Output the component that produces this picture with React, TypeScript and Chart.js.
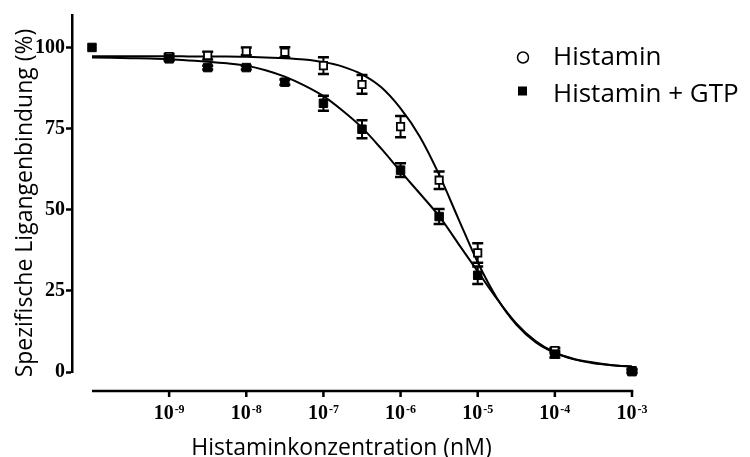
import React, { useEffect, useRef } from "react";
import { Chart, registerables } from "chart.js";

Chart.register(...registerables);

// ---- data (log10 of concentration, % specific binding, SEM) ----
const histaminLogConc = [-9, -8.5, -8, -7.5, -7, -6.5, -6, -5.5, -5, -4, -3];
const histaminBinding = [97.2, 97.5, 98.8, 98.5, 94.4, 88.6, 75.6, 59.1, 36.7, 6.6, 0.4];
const histaminSem = [0.8, 1.2, 1.2, 1.6, 2.6, 2.9, 3.3, 2.7, 3.0, 0.8, 0.5];

const gtpLogConc = [-10, -9, -8.5, -8, -7.5, -7, -6.5, -6, -5.5, -5, -4, -3];
const gtpBinding = [100, 96.5, 93.8, 93.8, 89.3, 82.8, 74.8, 62.2, 47.9, 29.8, 5.5, 0.1];
const gtpSem = [0, 0.6, 0.6, 0.6, 0.8, 2.3, 2.8, 2.1, 2.3, 2.7, 1.0, 0.5];

// fitted curves
const curveLogConc = [
  -10, -9.75, -9.5, -9.25, -9, -8.75, -8.5, -8.25, -8, -7.75, -7.5, -7.25, -7, -6.75, -6.5,
  -6.25, -6, -5.75, -5.5, -5.25, -5, -4.75, -4.5, -4.25, -4, -3.75, -3.5, -3.25, -3,
];
const histaminCurve = [
  97.3, 97.3, 97.3, 97.3, 97.3, 97.25, 97.2, 97.2, 97.1, 96.9, 96.7, 96.3, 95.5, 94.1, 91.7,
  87.7, 81.2, 72.5, 60.8, 47.2, 33.8, 22.7, 14.6, 9.2, 5.9, 3.9, 2.7, 2.1, 1.7,
];
const gtpCurve = [
  96.9, 96.8, 96.7, 96.6, 96.4, 96.0, 95.6, 95.1, 94.4, 93.0, 91.0, 88.3, 85.0, 80.5, 75.3,
  68.8, 61.8, 55.0, 48.0, 39.5, 31.0, 22.5, 15.0, 9.5, 6.0, 4.0, 2.9, 2.1, 1.6,
];

const xTickExponents = [-9, -8, -7, -6, -5, -4, -3];
const yTickValues = [0, 25, 50, 75, 100];
const xAxisStartExp = -10;
const xAxisEndExp = -3;

const seriesNames = ["Histamin", "Histamin + GTP"];
const xTitle = "Histaminkonzentration (nM)";
const yTitle = "Spezifische Ligangenbindung (%)";

const toXY = (logs: number[], vals: number[]) =>
  logs.map((l, i) => ({ x: Math.pow(10, l), y: vals[i] }));

const errorSeries = [
  { logs: histaminLogConc, vals: histaminBinding, errs: histaminSem },
  { logs: gtpLogConc, vals: gtpBinding, errs: gtpSem },
];

const errorBarPlugin = {
  id: "errorBars",
  beforeDatasetsDraw(chart: any) {
    const { ctx, scales } = chart;
    const xs = scales.x;
    const ys = scales.y;
    ctx.save();
    ctx.strokeStyle = "#000";
    errorSeries.forEach((s) => {
      s.logs.forEach((l, i) => {
        const e = s.errs[i];
        if (!e) return;
        const px = xs.getPixelForValue(Math.pow(10, l));
        const top = ys.getPixelForValue(s.vals[i] + e);
        const bot = ys.getPixelForValue(s.vals[i] - e);
        ctx.lineWidth = 2;
        ctx.beginPath();
        ctx.moveTo(px, top);
        ctx.lineTo(px, bot);
        ctx.stroke();
        ctx.lineWidth = 2.5;
        ctx.beginPath();
        ctx.moveTo(px - 5.5, top);
        ctx.lineTo(px + 5.5, top);
        ctx.moveTo(px - 5.5, bot);
        ctx.lineTo(px + 5.5, bot);
        ctx.stroke();
      });
    });
    ctx.restore();
  },
};

const decorPlugin = {
  id: "decor",
  afterDraw(chart: any) {
    const { ctx, scales } = chart;
    const xs = scales.x;
    const ys = scales.y;
    ctx.save();
    ctx.strokeStyle = "#000";
    ctx.fillStyle = "#000";

    // offset x axis
    const axisY = ys.getPixelForValue(0) + 19;
    const xa = xs.getPixelForValue(Math.pow(10, xAxisStartExp));
    const xb = xs.getPixelForValue(Math.pow(10, xAxisEndExp));
    ctx.lineWidth = 2.5;
    ctx.beginPath();
    ctx.moveTo(xa, axisY);
    ctx.lineTo(xb + 1.25, axisY);
    ctx.stroke();
    ctx.beginPath();
    xTickExponents.forEach((ex) => {
      const px = xs.getPixelForValue(Math.pow(10, ex));
      ctx.moveTo(px, axisY);
      ctx.lineTo(px, axisY + 6);
    });
    ctx.stroke();

    // tick labels 10^n
    const bigFont = "bold 20px 'Liberation Serif', serif";
    const supFont = "bold 12px 'Liberation Serif', serif";
    ctx.textBaseline = "alphabetic";
    ctx.textAlign = "left";
    xTickExponents.forEach((ex) => {
      const px = xs.getPixelForValue(Math.pow(10, ex));
      ctx.font = bigFont;
      const w1 = ctx.measureText("10").width;
      ctx.font = supFont;
      const sup = "-" + String(Math.abs(ex));
      const w2 = ctx.measureText(sup).width;
      const gap = 1;
      const left = px - (w1 + gap + w2) / 2;
      ctx.font = bigFont;
      ctx.fillText("10", left, axisY + 28);
      ctx.font = supFont;
      ctx.fillText(sup, left + w1 + gap, axisY + 22);
    });

    // axis titles
    ctx.font = "23px 'Open Sans', sans-serif";
    ctx.textAlign = "center";
    ctx.fillText(xTitle, 333.5, 447);
    ctx.save();
    ctx.translate(24, 195);
    ctx.rotate(-Math.PI / 2);
    ctx.fillText(yTitle, 0, 0);
    ctx.restore();

    // legend
    ctx.textAlign = "left";
    ctx.font = "26px 'Open Sans', sans-serif";
    ctx.lineWidth = 1.5;
    ctx.beginPath();
    ctx.arc(515, 49.5, 5.5, 0, Math.PI * 2);
    ctx.stroke();
    ctx.fillText(seriesNames[0], 545, 57);
    ctx.fillRect(510, 78.5, 9, 9);
    ctx.fillText(seriesNames[1], 545, 93.5);

    ctx.restore();
  },
};

export default function App() {
  const ref = useRef<HTMLCanvasElement>(null);

  useEffect(() => {
    const canvas = ref.current;
    if (!canvas) return;
    const chart = new Chart(canvas, {
      type: "scatter",
      data: {
        datasets: [
          {
            label: seriesNames[0],
            data: toXY(histaminLogConc, histaminBinding),
            pointStyle: "rect",
            pointRadius: 5.2,
            borderWidth: 1.8,
            borderColor: "#000",
            backgroundColor: "#fff",
            showLine: false,
            clip: false,
            order: 1,
          },
          {
            label: seriesNames[1],
            data: toXY(gtpLogConc, gtpBinding),
            pointStyle: "rect",
            pointRadius: 6,
            borderWidth: 1,
            borderColor: "#000",
            backgroundColor: "#000",
            showLine: false,
            clip: false,
            order: 0,
          },
          {
            label: "fit1",
            data: toXY(curveLogConc, histaminCurve),
            showLine: true,
            pointRadius: 0,
            borderWidth: 2,
            borderColor: "#000",
            backgroundColor: "#000",
            cubicInterpolationMode: "monotone",
            fill: false,
            clip: false,
            order: 3,
          },
          {
            label: "fit2",
            data: toXY(curveLogConc, gtpCurve),
            showLine: true,
            pointRadius: 0,
            borderWidth: 2,
            borderColor: "#000",
            backgroundColor: "#000",
            cubicInterpolationMode: "monotone",
            fill: false,
            clip: false,
            order: 2,
          },
        ] as any,
      },
      options: {
        animation: false,
        responsive: true,
        maintainAspectRatio: false,
        layout: { padding: { top: 7, right: 110, bottom: 85, left: 0 } },
        plugins: {
          legend: { display: false },
          tooltip: { enabled: false },
        },
        scales: {
          x: {
            type: "logarithmic",
            min: Math.pow(10, -10.259),
            max: Math.pow(10, xAxisEndExp),
            display: false,
          },
          y: {
            type: "linear",
            min: 0,
            max: 110,
            afterBuildTicks: (s: any) => {
              s.ticks = yTickValues.map((v) => ({ value: v }));
            },
            afterFit: (s: any) => {
              s.width = 64;
              s.paddingTop = 0;
              s.paddingBottom = 0;
            },
            border: { display: true, color: "#000", width: 2.5 },
            grid: {
              drawOnChartArea: false,
              tickLength: 6,
              tickWidth: 2.5,
              tickColor: "#000",
            },
            ticks: {
              stepSize: 25,
              padding: 1,
              color: "#000",
              font: { family: "'Liberation Serif', serif", weight: "bold", size: 20 },
            },
          },
        },
      } as any,
      plugins: [errorBarPlugin, decorPlugin],
    });
    return () => chart.destroy();
  }, []);

  return (
    <div style={{ width: 734, height: 449, position: "relative" }}>
      <canvas ref={ref} />
    </div>
  );
}
